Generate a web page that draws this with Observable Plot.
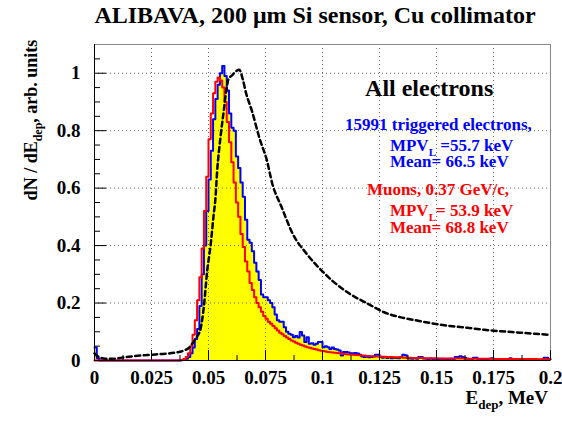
<!DOCTYPE html>
<html><head><meta charset="utf-8">
<script src="https://cdn.jsdelivr.net/npm/d3@7"></script>
<script src="https://cdn.jsdelivr.net/npm/@observablehq/plot@0.6"></script>
<style>body{margin:0;background:#fff} svg{display:block;overflow:visible} svg text{font-family:'Liberation Serif','Times New Roman',Times,serif !important;}</style>
</head><body><div id="chart"></div><script>
// Histogram bins: width 0.001 MeV, from 0 to 0.2 MeV (200 bins)
const binWidth = 0.001;
// All electrons (filled yellow, blue outline)
const electrons = [
0.045,0.008,0,0,0,0,0,0,0,0,
0,0,0,0,0,0,0,0,0,0,
0,0,0,0,0,0,0,0,0,0,
0,0,0,0,0,0,0,0,0.002,0.004,
0.006,0.012,0.025,0.045,0.075,0.11,0.19,0.30,0.40,0.52,
0.63,0.73,0.84,0.91,0.96,1.0,1.025,0.99,0.94,0.86,
0.81,0.80,0.71,0.67,0.62,0.57,0.49,0.42,0.41,0.38,
0.34,0.31,0.28,0.23,0.22,0.22,0.21,0.20,0.185,0.16,
0.14,0.135,0.135,0.116,0.10,0.093,0.09,0.081,0.085,0.08,
0.099,0.087,0.064,0.081,0.058,0.06,0.055,0.058,0.064,0.064,
0.046,0.05,0.046,0.04,0.045,0.04,0.038,0.035,0.017,0.03,
0.03,0.028,0.025,0.025,0.026,0.024,0.02,0.014,0.012,0.013,
0.011,0.012,0.014,0.02,0.02,0.012,0.01,0.011,0.009,0.012,
0.008,0.01,0.009,0.008,0.012,0.02,0.018,0.008,0.007,0.006,
0.008,0.006,0.012,0.012,0.007,0.006,0.005,0.007,0.005,0.006,
0.004,0.005,0.006,0.004,0.005,0.004,0.006,0.005,0.012,0.012,
0.015,0.012,0.01,0.006,0.005,0.004,0.01,0.01,0.004,0.003,
0.005,0.004,0.003,0.006,0.008,0.003,0.004,0.003,0.002,0.004,
0.003,0.005,0.008,0.004,0.002,0.003,0.002,0.003,0.002,0.004,
0.002,0.003,0.002,0.002,0.003,0.002,0.003,0.01,0.01,0.004
];
// Muons, 0.37 GeV/c (red outline)
const muons = [
0,0,0,0,0,0,0,0,0,0,
0,0,0,0,0,0,0,0,0,0,
0,0,0,0,0,0,0,0,0,0,
0,0,0,0,0,0,0,0,0.002,0.005,
0.012,0.025,0.05,0.09,0.14,0.21,0.29,0.39,0.52,0.64,
0.77,0.86,0.93,0.97,0.985,0.975,0.95,0.90,0.83,0.76,
0.69,0.62,0.55,0.50,0.44,0.395,0.345,0.31,0.27,0.245,
0.22,0.20,0.185,0.17,0.155,0.145,0.135,0.128,0.12,0.112,
0.104,0.097,0.091,0.085,0.08,0.075,0.07,0.066,0.062,0.058,
0.055,0.052,0.049,0.046,0.044,0.042,0.04,0.038,0.036,0.034,
0.033,0.031,0.030,0.029,0.028,0.027,0.026,0.025,0.024,0.023,
0.022,0.021,0.021,0.020,0.019,0.019,0.018,0.017,0.017,0.016,
0.016,0.015,0.015,0.014,0.014,0.014,0.013,0.013,0.012,0.012,
0.012,0.011,0.011,0.011,0.011,0.010,0.010,0.010,0.010,0.009,
0.009,0.009,0.009,0.009,0.008,0.008,0.008,0.008,0.008,0.008,
0.008,0.007,0.007,0.007,0.007,0.007,0.007,0.007,0.007,0.007,
0.007,0.007,0.006,0.006,0.006,0.006,0.006,0.006,0.006,0.006,
0.006,0.006,0.006,0.006,0.006,0.005,0.005,0.005,0.005,0.005,
0.005,0.005,0.005,0.005,0.005,0.005,0.005,0.005,0.005,0.005,
0.005,0.005,0.005,0.005,0.004,0.004,0.004,0.004,0.004,0.004
];
// Dashed reference curve
const curveE = [0,0.002,0.005,0.008,0.012,0.016,0.02,0.025,0.03,0.035,0.039,0.0415,0.043,0.0443,0.0465,0.048,0.0494,0.0509,0.0523,0.053,0.0538,0.0553,0.0567,0.0578,0.0588,0.0604,0.0618,0.0635,0.065,0.0665,0.069,0.0725,0.0755,0.078,0.082,0.087,0.093,0.0995,0.105,0.112,0.12,0.127,0.134,0.1415,0.149,0.156,0.1635,0.171,0.178,0.1855,0.193,0.2];
const curveV = [0.025,0.012,0.006,0.006,0.01,0.014,0.017,0.02,0.023,0.027,0.034,0.045,0.06,0.075,0.11,0.19,0.31,0.40,0.51,0.56,0.66,0.78,0.87,0.94,0.98,0.993,1.005,1.012,0.98,0.93,0.87,0.77,0.70,0.615,0.535,0.44,0.372,0.314,0.273,0.232,0.197,0.168,0.151,0.139,0.128,0.12,0.114,0.107,0.102,0.0975,0.093,0.089];

const xTicks = [0,0.025,0.05,0.075,0.1,0.125,0.15,0.175,0.2];
const xTickLabels = ["0","0.025","0.05","0.075","0.1","0.125","0.15","0.175","0.2"];
const xMinor = [0.0125,0.0375,0.0625,0.0875,0.1125,0.1375,0.1625,0.1875];
const xGrid = [0.025,0.05,0.075,0.1,0.125,0.15,0.175];
const yTicks = [0,0.2,0.4,0.6,0.8,1];
const yTickLabels = ["0","0.2","0.4","0.6","0.8","1"];
const yMinor = [0.05,0.1,0.15,0.25,0.3,0.35,0.45,0.5,0.55,0.65,0.7,0.75,0.85,0.9,0.95,1.05];
const yGrid = [0.2,0.4,0.6,0.8,1];

const FONT = "'Liberation Serif', 'Times New Roman', Times, serif";

function steps(vals) {
  const d = vals.map((v, i) => ({x: i * binWidth, y: v}));
  d.push({x: vals.length * binWidth, y: vals[vals.length - 1]});
  return d;
}
const eData = steps(electrons);
const mData = steps(muons);
const cData = curveE.map((e, i) => ({x: e, y: curveV[i]}));

const chart = Plot.plot({
  width: 562, height: 421,
  marginLeft: 94, marginRight: 12, marginTop: 44, marginBottom: 61,
  x: {domain: [0, 0.2], axis: null},
  y: {domain: [0, 1.1], axis: null},
  style: {fontFamily: FONT, background: "white"},
  marks: [
    Plot.areaY(eData, {x: "x", y: "y", curve: "step-after", fill: "#ffff00"}),
    Plot.ruleX(xGrid, {x: d => d, stroke: "#666", strokeWidth: 1, strokeDasharray: "1,3"}),
    Plot.ruleY(yGrid, {y: d => d, stroke: "#666", strokeWidth: 1, strokeDasharray: "1,3"}),
    Plot.frame({stroke: "#888", strokeWidth: 1}),
    Plot.lineY(eData, {x: "x", y: "y", curve: "step-after", stroke: "#0000ff", strokeWidth: 2}),
    Plot.lineY(mData, {x: "x", y: "y", curve: "step-after", stroke: "#ff0000", strokeWidth: 2}),
    Plot.line(cData, {x: "x", y: "y", curve: "monotone-x", stroke: "black", strokeWidth: 2.5, strokeDasharray: "5,3.5"}),
    Plot.ruleX([0], {x: d => d, stroke: "black", strokeWidth: 1}),
    Plot.ruleY([0], {y: d => d, stroke: "black", strokeWidth: 1}),
    Plot.ruleX(xTicks, {x: d => d, y1: 0, y2: 0, insetTop: -10, stroke: "black", strokeWidth: 1}),
    Plot.ruleX(xMinor, {x: d => d, y1: 0, y2: 0, insetTop: -5, stroke: "black", strokeWidth: 1}),
    Plot.ruleY(yTicks, {y: d => d, x1: 0, x2: 0, insetRight: -12, stroke: "black", strokeWidth: 1}),
    Plot.ruleY(yMinor, {y: d => d, x1: 0, x2: 0, insetRight: -6, stroke: "black", strokeWidth: 1}),
    Plot.text(xTicks, {x: d => d, frameAnchor: "bottom", text: (d, i) => xTickLabels[i], lineAnchor: "middle", dy: 17, fontSize: 19, fontWeight: "bold", fill: "black", fontFamily: FONT}),
    Plot.text(yTicks, {y: d => d, frameAnchor: "left", text: (d, i) => yTickLabels[i], textAnchor: "end", dx: -14, fontSize: 19, fontWeight: "bold", fill: "black", fontFamily: FONT})
  ]
});
document.getElementById("chart").appendChild(chart);

const svg = d3.select(chart);
const sx = chart.scale("x"), sy = chart.scale("y");

function addText(x, y, parts, opts) {
  const t = svg.append("text")
    .attr("x", x).attr("y", y)
    .style("font-family", FONT).attr("font-weight", "bold")
    .attr("font-size", opts.size).attr("fill", opts.fill || "black")
    .attr("text-anchor", opts.anchor || "start");
  if (opts.transform) t.attr("transform", opts.transform);
  let pending = 0;
  parts.forEach(p => {
    if (typeof p === "string") {
      const s = t.append("tspan").text(p);
      if (pending) { s.attr("dy", -pending); pending = 0; }
    } else {
      t.append("tspan").attr("font-size", p.size).attr("dy", p.shift).text(p.sub);
      pending = p.shift;
    }
  });
  return t;
}

// Title
addText(315, 23, ["ALIBAVA, 200 \u03bcm Si sensor, Cu collimator"], {size: 24, anchor: "middle"});

// Axis titles
addText(548, 404, ["E", {sub: "dep", size: 13, shift: 5}, ", MeV"], {size: 19, anchor: "end"});
addText(0, 0, ["dN / dE", {sub: "dep", size: 12, shift: 5}, ", arb. units"], {size: 18, anchor: "middle", transform: "translate(37,120) rotate(-90)"});

// Annotations (positioned in data coordinates)
const blue = "#0000ff", red = "#ff0000";
addText(sx.apply(0.147), sy.apply(0.92), ["All electrons"], {size: 24, anchor: "middle"});
addText(sx.apply(0.1101), sy.apply(0.801), ["15991 triggered electrons,"], {size: 17, fill: blue});
addText(sx.apply(0.1298), sy.apply(0.728), ["MPV", {sub: "L", size: 11, shift: 5}, " =55.7 keV"], {size: 17, fill: blue});
addText(sx.apply(0.1298), sy.apply(0.672), ["Mean= 66.5 keV"], {size: 17, fill: blue});
addText(sx.apply(0.1197), sy.apply(0.575), ["Muons, 0.37 GeV/c,"], {size: 17, fill: red});
addText(sx.apply(0.1298), sy.apply(0.500), ["MPV", {sub: "L", size: 11, shift: 5}, "= 53.9 keV"], {size: 17, fill: red});
addText(sx.apply(0.1298), sy.apply(0.443), ["Mean= 68.8 keV"], {size: 17, fill: red});
</script></body></html>
